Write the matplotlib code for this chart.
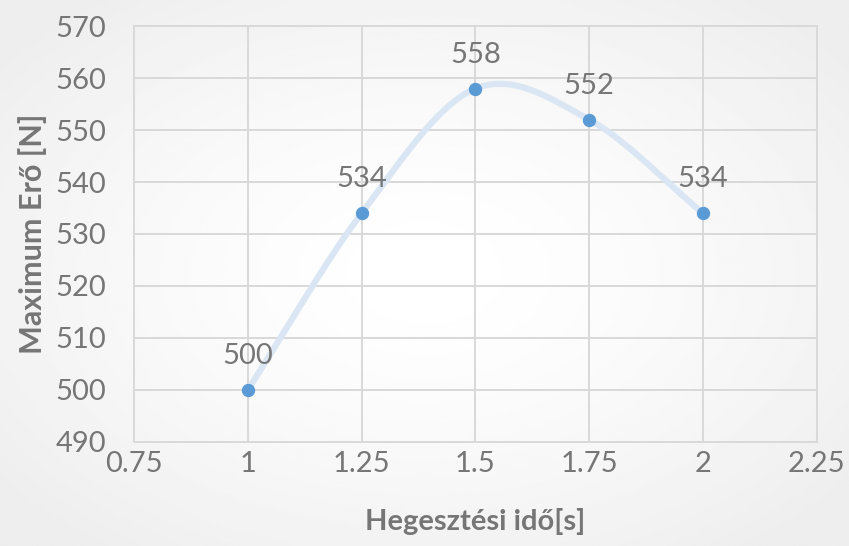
import numpy as np
import matplotlib.pyplot as plt

# welding time vs. maximum force
ido = [1.0, 1.25, 1.5, 1.75, 2.0]
ero = [500, 534, 558, 552, 534]
x_ticks = [0.75, 1, 1.25, 1.5, 1.75, 2, 2.25]
x_tick_labels = ['0.75', '1', '1.25', '1.5', '1.75', '2', '2.25']
y_ticks = [490, 500, 510, 520, 530, 540, 550, 560, 570]

plt.rcParams['font.family'] = ['Lato', 'DejaVu Sans']
szurke = '#767676'
kek = '#5b9bd5'


def sima_vonal(xp, yp, n=60):
    # Catmull-Rom style smoothed line through the points
    xp = np.asarray(xp, float)
    yp = np.asarray(yp, float)
    mx = np.gradient(xp)
    my = np.gradient(yp)
    ox, oy = [], []
    t = np.linspace(0, 1, n)
    h00 = 2*t**3 - 3*t**2 + 1
    h10 = t**3 - 2*t**2 + t
    h01 = -2*t**3 + 3*t**2
    h11 = t**3 - t**2
    for i in range(len(xp) - 1):
        ox.append(h00*xp[i] + h10*mx[i] + h01*xp[i+1] + h11*mx[i+1])
        oy.append(h00*yp[i] + h10*my[i] + h01*yp[i+1] + h11*my[i+1])
    return np.concatenate(ox), np.concatenate(oy)


fig = plt.figure(figsize=(8.49, 5.46), dpi=100)

# soft radial background, white in the middle and grey towards the corners
bg = fig.add_axes([0, 0, 1, 1], zorder=-10)
gx, gy = np.meshgrid(np.linspace(-1, 1, 300), np.linspace(-1, 1, 200))
r = np.clip(np.sqrt(gx**2 + gy**2) / 1.3, 0, 1)
bg.imshow(1 - 0.07 * r**1.5, cmap='gray', vmin=0, vmax=1, aspect='auto',
          extent=[0, 1, 0, 1])
bg.axis('off')

ax = fig.add_axes([0.158, 0.191, 0.804, 0.761])
ax.patch.set_alpha(0)

xs, ys = sima_vonal(ido, ero)
ax.plot(xs, ys, color='#dae6f4', lw=4.5, solid_capstyle='butt', zorder=2)

ax.plot(ido, ero, 'o', color=kek, markersize=8.6, zorder=3)
for xv, yv in zip(ido, ero):
    ax.annotate(str(yv), (xv, yv), xytext=(0, 15), textcoords='offset points',
                ha='center', va='bottom', fontsize=21, color=szurke)

ax.set_xlim(0.75, 2.25)
ax.set_ylim(490, 570)
ax.set_xticks(x_ticks)
ax.set_xticklabels(x_tick_labels)
ax.set_yticks(y_ticks)
ax.grid(True, color='#d9d9d9', lw=1.4)
ax.set_axisbelow(True)
for s in ax.spines.values():
    s.set_color('#d9d9d9')
    s.set_linewidth(1.4)
ax.tick_params(length=0, labelsize=21, colors=szurke)
ax.tick_params(axis='x', pad=7)
ax.tick_params(axis='y', pad=20)

ax.set_xlabel('Hegesztési idő[s]', fontsize=21, fontweight='bold', color=szurke, labelpad=22)
ax.set_ylabel('Maximum Erő [N]', fontsize=22, fontweight='bold', color=szurke, labelpad=6)

fig.savefig('out.png', dpi=100)
